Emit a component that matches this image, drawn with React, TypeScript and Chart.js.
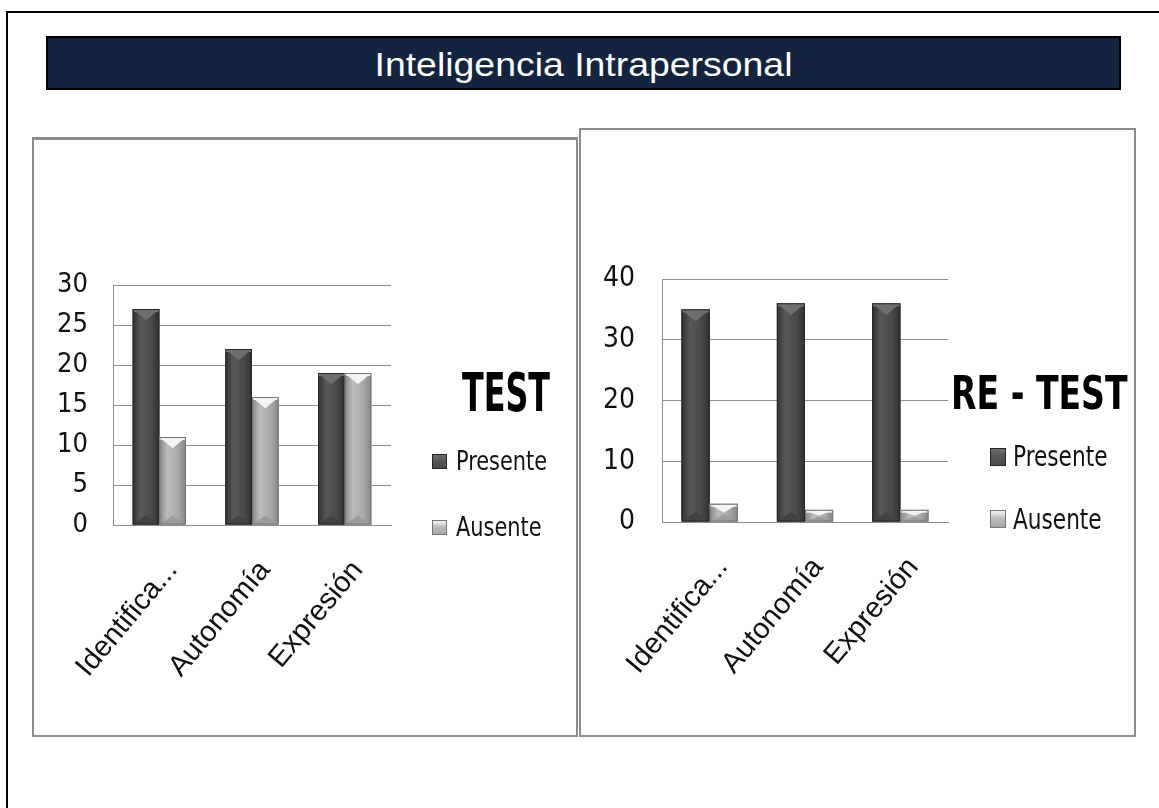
import React, { useEffect, useRef } from "react";
import { Chart, registerables } from "chart.js";

Chart.register(...registerables);

// ---------- data ----------
const pageTitle = "Inteligencia Intrapersonal";
const categories = ["Identifica...", "Autonomía", "Expresión"];
const seriesNames = ["Presente", "Ausente"];

const testTitle = "TEST";
const testPresente = [27, 22, 19];
const testAusente = [11, 16, 19];
const testYMax = 30;
const testYStep = 5;

const retestTitle = "RE - TEST";
const retestPresente = [35, 36, 36];
const retestAusente = [3, 2, 2];
const retestYMax = 40;
const retestYStep = 10;

// ---------- styles ----------
const NARROW = "'DejaVu Sans Condensed', 'Liberation Sans Narrow', sans-serif";
const SANS = "'Liberation Sans', Arial, sans-serif";
const barColors = ["#4b4b4b", "#a8a8a8"];
const bevelStyles = [
  { edge: "#303030", mid: "#575757", body: "#4a4a4a", cap: "#6e6e6e", band: "#7a7a7a", foot: "#424242", line: "#262626" },
  { edge: "#868686", mid: "#bcbcbc", body: "#a9a9a9", cap: "#f4f4f4", band: "#e0e0e0", foot: "#9c9c9c", line: "#777777" },
];
const gridColor = "#8c8c8c";

const bevelPlugin = {
  id: "bevel3d",
  afterDatasetsDraw(chart: any) {
    const ctx = chart.ctx;
    chart.data.datasets.forEach((_ds: any, di: number) => {
      const meta = chart.getDatasetMeta(di);
      const st = bevelStyles[di];
      meta.data.forEach((el: any) => {
        const { x, y, width, base } = el.getProps(["x", "y", "width", "base"], true);
        const left = x - width / 2;
        const right = x + width / 2;
        const h = base - y;
        if (h <= 0) return;
        ctx.save();
        const g = ctx.createLinearGradient(left, 0, right, 0);
        g.addColorStop(0, st.edge);
        g.addColorStop(0.3, st.mid);
        g.addColorStop(0.7, st.body);
        g.addColorStop(1, st.edge);
        ctx.fillStyle = g;
        ctx.fillRect(left, y, width, h);
        const bh = Math.min(width * 0.42, h * 0.5);
        ctx.fillStyle = st.foot;
        ctx.beginPath();
        ctx.moveTo(left, base);
        ctx.lineTo(right, base);
        ctx.lineTo(x, base - bh * 0.8);
        ctx.closePath();
        ctx.fill();
        ctx.fillStyle = st.band;
        ctx.fillRect(left, y, width, Math.min(3, h));
        ctx.fillStyle = st.cap;
        ctx.beginPath();
        ctx.moveTo(left + 1, y + 1);
        ctx.lineTo(right - 1, y + 1);
        ctx.lineTo(x, y + bh);
        ctx.closePath();
        ctx.fill();
        ctx.strokeStyle = st.line;
        ctx.lineWidth = 1;
        ctx.strokeRect(left + 0.5, y + 0.5, width - 1, h - 1);
        ctx.restore();
      });
    });
  },
};

type Cfg = {
  left: number;
  top: number;
  width: number;
  height: number;
  padTop: number;
  padRight: number;
  yWidth: number;
  yPad: number;
  yFont: number;
  xHeight: number;
  xPad: number;
  xOffset: number;
  xFont: number;
  catPct: number;
};

function BarChart(props: { cfg: Cfg; presente: number[]; ausente: number[]; yMax: number; yStep: number }) {
  const ref = useRef<HTMLCanvasElement>(null);
  const { cfg, presente, ausente, yMax, yStep } = props;
  useEffect(() => {
    if (!ref.current) return;
    const chart = new Chart(ref.current, {
      type: "bar",
      data: {
        labels: categories,
        datasets: [
          { label: seriesNames[0], data: presente, backgroundColor: barColors[0], borderWidth: 0, categoryPercentage: cfg.catPct, barPercentage: 1 },
          { label: seriesNames[1], data: ausente, backgroundColor: barColors[1], borderWidth: 0, categoryPercentage: cfg.catPct, barPercentage: 1 },
        ],
      },
      options: {
        responsive: false,
        animation: false,
        devicePixelRatio: 1,
        layout: { padding: { left: 0, top: cfg.padTop, right: cfg.padRight, bottom: 0 } },
        plugins: { legend: { display: false }, tooltip: { enabled: false } },
        scales: {
          x: {
            grid: { display: false },
            border: { display: true, color: gridColor, width: 1 },
            ticks: {
              font: { family: SANS, size: cfg.xFont },
              color: "#111",
              minRotation: 50,
              maxRotation: 50,
              padding: cfg.xPad,
              labelOffset: cfg.xOffset,
              autoSkip: false,
            },
            afterFit: (s: any) => {
              s.height = cfg.xHeight;
            },
          },
          y: {
            min: 0,
            max: yMax,
            ticks: { stepSize: yStep, font: { family: NARROW, size: cfg.yFont }, color: "#111", padding: cfg.yPad },
            grid: { color: gridColor, drawTicks: false, lineWidth: 1 },
            border: { display: true, color: gridColor, width: 1 },
            afterFit: (s: any) => {
              s.width = cfg.yWidth;
            },
          },
        },
      } as any,
      plugins: [bevelPlugin],
    });
    return () => chart.destroy();
  }, []);
  return (
    <canvas
      ref={ref}
      width={cfg.width}
      height={cfg.height}
      style={{ position: "absolute", left: cfg.left, top: cfg.top, width: cfg.width, height: cfg.height }}
    />
  );
}

const abs = (left: number, top: number, extra: React.CSSProperties = {}): React.CSSProperties => ({
  position: "absolute",
  left,
  top,
  whiteSpace: "nowrap",
  ...extra,
});

function LegendBlock(props: {
  title: string;
  titleLeft: number;
  titleTop: number;
  titleSize: number;
  titleScale: number;
  markerLeft: number;
  markerW: number;
  markerH: number;
  markerTops: number[];
  textLeft: number;
  textTops: number[];
  textSize: number;
  textScale: number;
}) {
  const p = props;
  return (
    <>
      <div
        style={abs(p.titleLeft, p.titleTop, {
          fontFamily: NARROW,
          fontWeight: "bold",
          fontSize: p.titleSize,
          lineHeight: 1,
          color: "#000",
          transform: `scaleX(${p.titleScale})`,
          transformOrigin: "left top",
        })}
      >
        {p.title}
      </div>
      {seriesNames.map((name, i) => (
        <React.Fragment key={name}>
          <div
            style={abs(p.markerLeft, p.markerTops[i], {
              width: p.markerW,
              height: p.markerH,
              boxSizing: "border-box",
              border: `1px solid ${bevelStyles[i].line}`,
              background: `linear-gradient(180deg, ${bevelStyles[i].cap} 0%, ${bevelStyles[i].mid} 45%, ${barColors[i]} 100%)`,
            })}
          />
          <div
            style={abs(p.textLeft, p.textTops[i], {
              fontFamily: NARROW,
              fontSize: p.textSize,
              lineHeight: 1,
              color: "#111",
              transform: `scaleX(${p.textScale})`,
              transformOrigin: "left top",
            })}
          >
            {name}
          </div>
        </React.Fragment>
      ))}
    </>
  );
}

const leftCfg: Cfg = {
  left: 35, top: 140, width: 540, height: 595,
  padTop: 145, padRight: 184, yWidth: 78, yPad: 25, yFont: 27,
  xHeight: 210, xPad: 21, xOffset: 13, xFont: 29, catPct: 0.575,
};
const rightCfg: Cfg = {
  left: 581, top: 130, width: 553, height: 605,
  padTop: 149, padRight: 186, yWidth: 81, yPad: 27, yFont: 28,
  xHeight: 213, xPad: 21, xOffset: 13, xFont: 29, catPct: 0.59,
};

export default function App() {
  return (
    <div style={{ position: "fixed", left: 0, top: 0, width: 1159, height: 808, overflow: "hidden", background: "#fff" }}>
      {/* outer frame */}
      <div style={{ position: "absolute", left: 6, top: 11, width: 1300, height: 900, borderLeft: "2px solid #000", borderTop: "2px solid #000" }} />
      {/* title bar */}
      <div
        style={{
          position: "absolute", left: 46, top: 36, width: 1075, height: 54, boxSizing: "border-box",
          border: "2px solid #000", background: "#12243f",
        }}
      />
      <div
        style={{
          position: "absolute", left: 46, top: 47, width: 1075, textAlign: "center", color: "#fff",
          fontFamily: SANS, fontSize: 34, lineHeight: 1, transform: "scaleX(1.1)", transformOrigin: "center top",
        }}
      >
        {pageTitle}
      </div>
      {/* chart frames */}
      <div style={{ position: "absolute", left: 32, top: 137, width: 546, height: 600, boxSizing: "border-box", border: "2px solid #8c8c8c", borderTopWidth: 3 }} />
      <div style={{ position: "absolute", left: 579, top: 128, width: 557, height: 609, boxSizing: "border-box", border: "2px solid #8c8c8c" }} />

      <BarChart cfg={leftCfg} presente={testPresente} ausente={testAusente} yMax={testYMax} yStep={testYStep} />
      <BarChart cfg={rightCfg} presente={retestPresente} ausente={retestAusente} yMax={retestYMax} yStep={retestYStep} />

      <LegendBlock
        title={testTitle} titleLeft={462} titleTop={366} titleSize={54} titleScale={0.655}
        markerLeft={432} markerW={15} markerH={15} markerTops={[454, 520]}
        textLeft={456} textTops={[447, 513]} textSize={27} textScale={0.86}
      />
      <LegendBlock
        title={retestTitle} titleLeft={951} titleTop={370} titleSize={46} titleScale={0.8}
        markerLeft={990} markerW={16} markerH={18} markerTops={[448, 510]}
        textLeft={1013} textTops={[442, 505]} textSize={29} textScale={0.83}
      />
    </div>
  );
}
